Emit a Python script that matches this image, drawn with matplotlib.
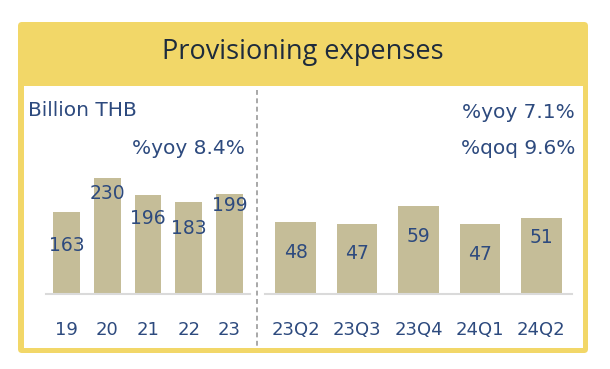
import matplotlib.pyplot as plt
from matplotlib.patches import FancyBboxPatch, Rectangle

# data
years = ['19', '20', '21', '22', '23']
year_values = [163, 230, 196, 183, 199]
quarters = ['23Q2', '23Q3', '23Q4', '24Q1', '24Q2']
quarter_values = [48, 47, 59, 47, 51]

title = 'Provisioning expenses'
unit_label = 'Billion THB'
year_notes = ['%yoy 8.4%']
quarter_notes = ['%yoy 7.1%', '%qoq 9.6%']

# styling
W, H = 610, 369
YELLOW = '#F2D768'
BAR = '#C5BD98'
TXT = '#2D4A7E'
TITLE_TXT = '#1E2B3C'
year_label_drop = [33, 15, 23, 27, 12]     # px below bar top
quarter_label_drop = [30, 30, 31, 31, 20]

fig = plt.figure(figsize=(W / 100, H / 100), dpi=100)
fig.patch.set_facecolor('white')

# background drawn in pixel coords
bg = fig.add_axes([0, 0, 1, 1])
bg.set_xlim(0, W)
bg.set_ylim(H, 0)
bg.axis('off')
bg.add_patch(FancyBboxPatch((18, 22), 570, 331, boxstyle='round,pad=0,rounding_size=4',
                            facecolor=YELLOW, edgecolor='none'))
bg.add_patch(Rectangle((24, 86), 559, 262, facecolor='white', edgecolor='none'))
bg.text(303, 52, title, ha='center', va='center', fontsize=19.5,
        family='Open Sans', color=TITLE_TXT)
bg.plot([257, 257], [90, 346], color='#A8A8A8', lw=1.4, ls=(0, (2.5, 1.8)))
bg.text(28, 110, unit_label, ha='left', va='center', fontsize=14.5, color=TXT)
bg.text(245, 148, year_notes[0], ha='right', va='center', fontsize=14.5, color=TXT)
for i, note in enumerate(quarter_notes):
    bg.text(575, 113 + i * 35, note, ha='right', va='center', fontsize=14.5, color=TXT)


def px_axes(x0, x1, y_top, y_base):
    return fig.add_axes([x0 / W, 1 - y_base / H, (x1 - x0) / W, (y_base - y_top) / H])


def bar_panel(ax, labels, values, ymax, drops):
    ax.set_facecolor('none')
    xs = range(len(values))
    ax.bar(xs, values, width=0.66, color=BAR)
    ax.set_xlim(-0.5, len(values) - 0.5)
    ax.set_ylim(0, ymax)
    ax.set_xticks(list(xs))
    ax.set_xticklabels(labels, fontsize=13, color=TXT)
    ax.set_yticks([])
    ax.tick_params(axis='x', length=0, pad=19.5)
    for s in ['top', 'left', 'right']:
        ax.spines[s].set_visible(False)
    ax.spines['bottom'].set_color('#DADADA')
    ax.spines['bottom'].set_linewidth(1.5)
    for x, v, d in zip(xs, values, drops):
        ax.annotate(str(v), (x, v), xytext=(0, -d * 0.72), textcoords='offset points',
                    ha='center', va='center', fontsize=13.5, color=TXT)


ax1 = px_axes(46, 250, 90, 294)
bar_panel(ax1, years, year_values, 204 / 0.503, year_label_drop)

ax2 = px_axes(265, 572, 90, 294)
bar_panel(ax2, quarters, quarter_values, 204 / 1.5, quarter_label_drop)

fig.savefig('out.png', dpi=100)
